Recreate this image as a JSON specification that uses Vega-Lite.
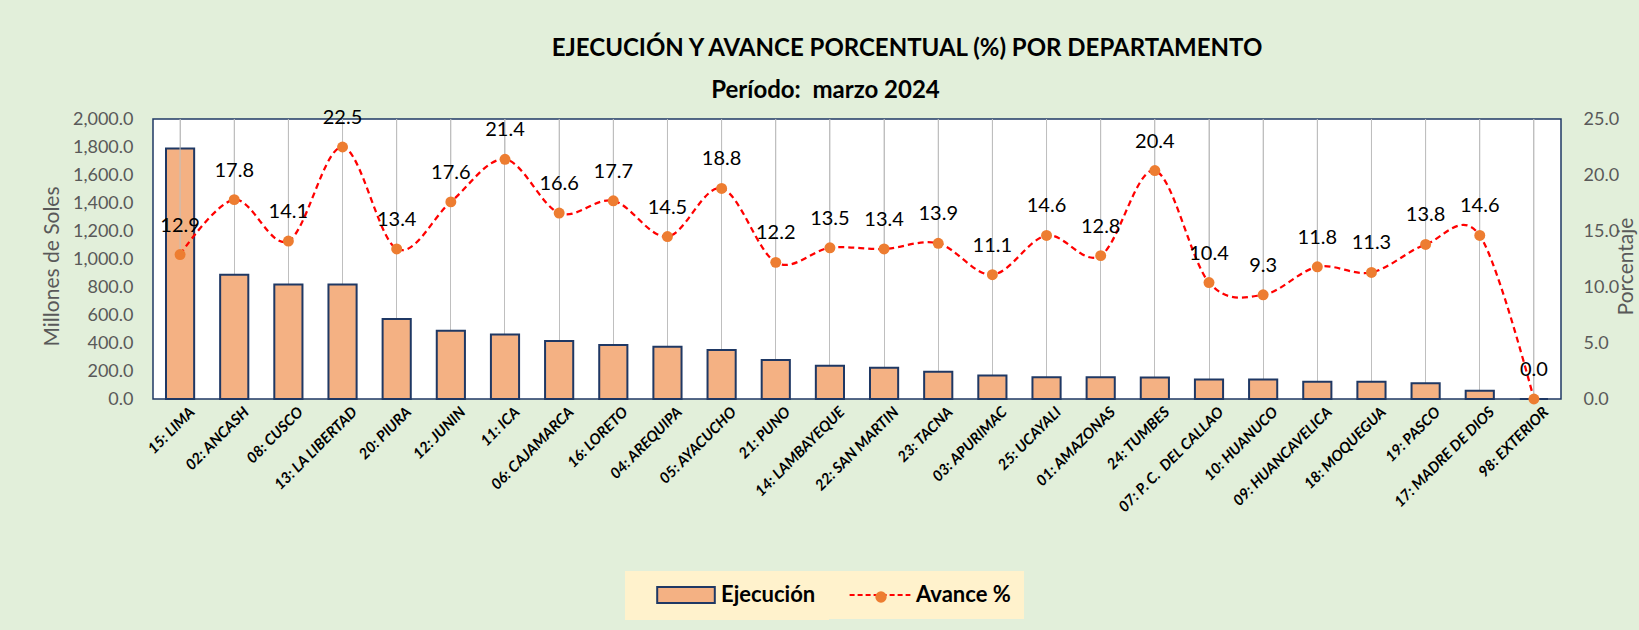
{
  "$schema": "https://vega.github.io/schema/vega-lite/v6.json",
  "width": 1408,
  "height": 280,
  "autosize": {"type": "none"},
  "padding": {"left": 153, "top": 119, "right": 78, "bottom": 231},
  "title": {
    "text": "EJECUCIÓN Y AVANCE PORCENTUAL (%) POR DEPARTAMENTO",
    "anchor": "middle",
    "dx": 50,
    "dy": 12,
    "font": "Lato",
    "fontSize": 24,
    "fontWeight": "bold",
    "color": "#000000",
    "baseline": "alphabetic",
    "offset": 10
  },
  "data": {
    "values": [
      {"dept": "15: LIMA", "ejec": 1790, "pct": 12.9},
      {"dept": "02: ANCASH", "ejec": 888, "pct": 17.8},
      {"dept": "08: CUSCO", "ejec": 817, "pct": 14.1},
      {"dept": "13: LA LIBERTAD", "ejec": 817, "pct": 22.5},
      {"dept": "20: PIURA", "ejec": 571, "pct": 13.4},
      {"dept": "12: JUNIN", "ejec": 488, "pct": 17.6},
      {"dept": "11: ICA", "ejec": 460, "pct": 21.4},
      {"dept": "06: CAJAMARCA", "ejec": 415, "pct": 16.6},
      {"dept": "16: LORETO", "ejec": 386, "pct": 17.7},
      {"dept": "04: AREQUIPA", "ejec": 374, "pct": 14.5},
      {"dept": "05: AYACUCHO", "ejec": 350, "pct": 18.8},
      {"dept": "21: PUNO", "ejec": 279, "pct": 12.2},
      {"dept": "14: LAMBAYEQUE", "ejec": 238, "pct": 13.5},
      {"dept": "22: SAN MARTIN", "ejec": 224, "pct": 13.4},
      {"dept": "23: TACNA", "ejec": 195, "pct": 13.9},
      {"dept": "03: APURIMAC", "ejec": 167, "pct": 11.1},
      {"dept": "25: UCAYALI", "ejec": 155, "pct": 14.6},
      {"dept": "01: AMAZONAS", "ejec": 155, "pct": 12.8},
      {"dept": "24: TUMBES", "ejec": 154, "pct": 20.4},
      {"dept": "07: P. C.\u00a0 DEL CALLAO", "ejec": 140, "pct": 10.4},
      {"dept": "10: HUANUCO", "ejec": 140, "pct": 9.3},
      {"dept": "09: HUANCAVELICA", "ejec": 124, "pct": 11.8},
      {"dept": "18: MOQUEGUA", "ejec": 124, "pct": 11.3},
      {"dept": "19: PASCO", "ejec": 112, "pct": 13.8},
      {"dept": "17: MADRE DE DIOS", "ejec": 59, "pct": 14.6},
      {"dept": "98: EXTERIOR", "ejec": 0, "pct": 0.0}
    ]
  },
  "layer": [
    {
      "mark": {"type": "bar", "stroke": "#1F3864", "strokeWidth": 2},
      "encoding": {
        "x": {
          "field": "dept",
          "type": "nominal",
          "sort": null,
          "scale": {"paddingInner": 0.48, "paddingOuter": 0.24},
          "axis": {
            "orient": "bottom",
            "title": null,
            "labelAngle": -45,
            "labelAlign": "right",
            "labelBaseline": "middle",
            "labelFont": "Lato",
            "labelFontStyle": "italic",
            "labelFontWeight": "bold",
            "labelFontSize": 15,
            "labelColor": "#000000",
            "labelPadding": 10,
            "labelOffset": 12,
            "ticks": false,
            "domain": false,
            "grid": true,
            "gridColor": "#BFBFBF",
            "gridWidth": 1
          }
        },
        "y": {
          "field": "ejec",
          "type": "quantitative",
          "scale": {"domain": [0, 2000], "nice": false},
          "axis": {
            "orient": "left",
            "values": [0, 200, 400, 600, 800, 1000, 1200, 1400, 1600, 1800, 2000],
            "format": ",.1f",
            "labelFont": "Lato",
            "labelFontSize": 18,
            "labelColor": "#595959",
            "labelPadding": 20,
            "ticks": false,
            "domain": false,
            "grid": false,
            "title": "Millones de Soles",
            "titleFont": "Lato",
            "titleFontSize": 21,
            "titleFontWeight": "normal",
            "titleColor": "#595959",
            "titleAngle": 270,
            "titleX": -101,
            "titleY": 147,
            "titleAlign": "center",
            "titleBaseline": "middle"
          }
        },
        "fill": {
          "datum": "Ejecución",
          "scale": {"range": ["#F4B183"]},
          "legend": {
            "title": null,
            "orient": "none",
            "legendX": 472,
            "legendY": 452,
            "fillColor": "#FFF2CC",
            "padding": 13,
            "symbolType": "M-3.6,-1H3.6V1H-3.6Z",
            "symbolSize": 256,
            "symbolStrokeColor": "#1F3864",
            "symbolStrokeWidth": 2,
            "symbolOffset": 37,
            "labelOffset": 24,
            "labelFont": "Lato",
            "labelFontWeight": "bold",
            "labelFontSize": 22,
            "labelColor": "#000000"
          }
        }
      }
    },
    {
      "encoding": {
        "x": {
          "field": "dept",
          "type": "nominal",
          "sort": null,
          "axis": {
            "orient": "top",
            "labels": false,
            "ticks": false,
            "domain": false,
            "grid": false,
            "title": "Período:\u00a0 marzo 2024",
            "titleFont": "Lato",
            "titleFontSize": 24,
            "titleFontWeight": "bold",
            "titleColor": "#000000",
            "titleX": 672,
            "titleY": -22,
            "titleAlign": "center",
            "titleBaseline": "alphabetic"
          }
        },
        "y": {
          "field": "pct",
          "type": "quantitative",
          "scale": {"domain": [0, 25], "nice": false},
          "axis": {
            "orient": "right",
            "values": [0, 5, 10, 15, 20, 25],
            "format": ".1f",
            "labelFont": "Lato",
            "labelFontSize": 18,
            "labelColor": "#595959",
            "labelPadding": 22,
            "ticks": false,
            "domain": false,
            "grid": false,
            "title": "Porcentaje",
            "titleFont": "Lato",
            "titleFontSize": 21,
            "titleFontWeight": "normal",
            "titleColor": "#595959",
            "titleAngle": 270,
            "titleX": 65,
            "titleY": 147,
            "titleAlign": "center",
            "titleBaseline": "middle"
          }
        }
      },
      "layer": [
        {
          "mark": {"type": "rule", "color": "#BFBFBF", "strokeWidth": 1},
          "encoding": {"y2": {"datum": 25}}
        },
        {
          "mark": {"type": "line", "interpolate": "cardinal", "strokeDash": [6, 4], "strokeWidth": 2.25},
          "encoding": {
            "stroke": {
              "datum": "Avance %",
              "scale": {"range": ["#FF0000"]},
              "legend": {
                "title": null,
                "orient": "none",
                "legendX": 675,
                "legendY": 452,
                "fillColor": "#FFF2CC",
                "padding": 13,
                "symbolType": "M-3.8,0H3.8",
                "symbolSize": 256,
                "symbolStrokeWidth": 2,
                "symbolDash": [5, 3],
                "symbolOffset": 28,
                "labelOffset": 25,
                "labelFont": "Lato",
                "labelFontWeight": "bold",
                "labelFontSize": 22,
                "labelColor": "#000000"
              }
            }
          }
        },
        {
          "mark": {"type": "point", "filled": true, "size": 120, "color": "#ED7D31", "opacity": 1},
          "encoding": {
            "shape": {
              "datum": "punto",
              "scale": {"range": ["circle"]},
              "legend": {
                "title": null,
                "orient": "none",
                "legendX": 722,
                "legendY": 472,
                "padding": 0,
                "symbolSize": 128,
                "symbolFillColor": "#ED7D31",
                "symbolStrokeColor": "#ED7D31",
                "symbolStrokeWidth": 0,
                "symbolOpacity": 1,
                "labelOpacity": 0,
                "labelFontSize": 1
              }
            }
          }
        },
        {
          "mark": {"type": "text", "baseline": "alphabetic", "dy": -23, "font": "Lato", "fontSize": 20, "color": "#000000"},
          "encoding": {"text": {"field": "pct", "type": "quantitative", "format": ".1f"}}
        }
      ]
    }
  ],
  "resolve": {"scale": {"y": "independent"}, "axis": {"x": "independent"}},
  "config": {
    "background": "#E2EFDA",
    "view": {"fill": "#FFFFFF", "stroke": "#1F3864", "strokeWidth": 1.5}
  }
}
